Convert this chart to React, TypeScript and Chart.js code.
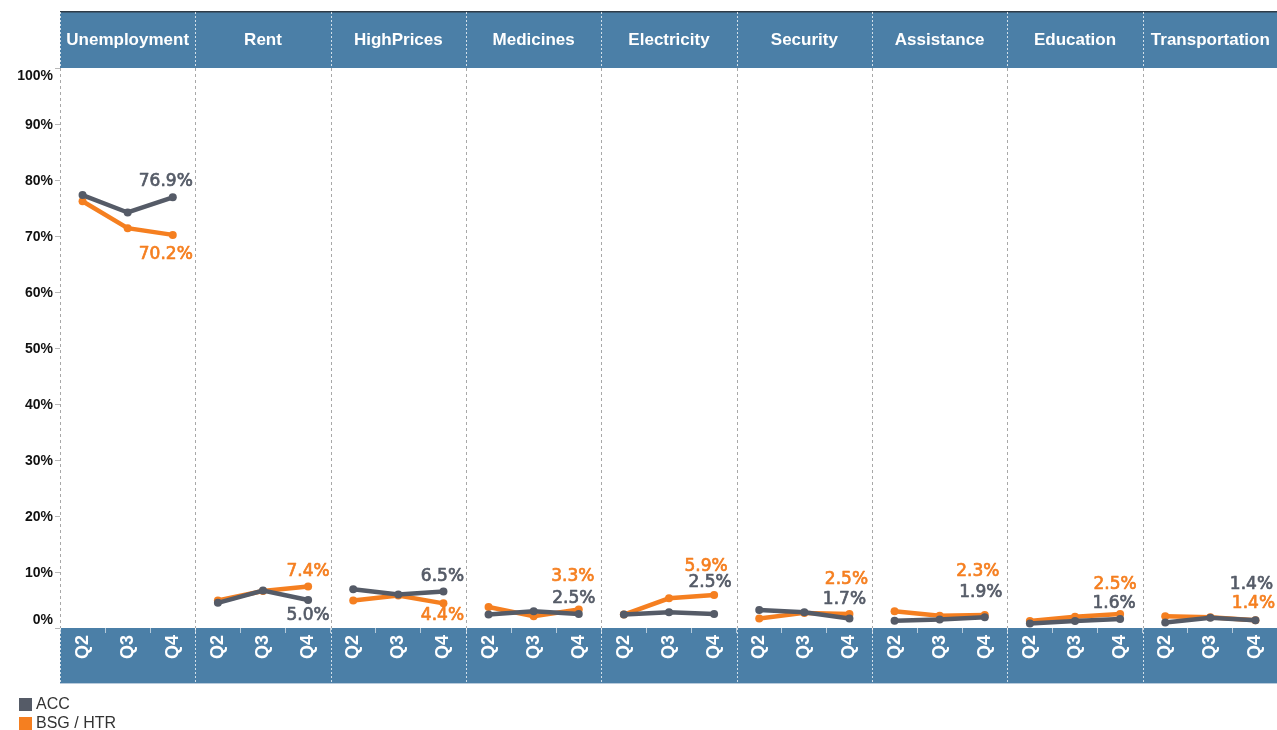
import React, { useEffect, useRef } from 'react';
import { Chart, registerables } from 'chart.js';

Chart.register(...registerables);

// ---------- data ----------
const CATEGORIES = [
  'Unemployment',
  'Rent',
  'HighPrices',
  'Medicines',
  'Electricity',
  'Security',
  'Assistance',
  'Education',
  'Transportation',
];
const QUARTERS = ['Q2', 'Q3', 'Q4'];
const SERIES_NAMES = ['ACC', 'BSG / HTR'];

// values in %, one triple (Q2, Q3, Q4) per category
const ACC_VALUES = [
  [77.3, 74.2, 76.9],
  [4.5, 6.7, 5.0],
  [6.9, 6.0, 6.5],
  [2.4, 3.0, 2.5],
  [2.4, 2.8, 2.5],
  [3.2, 2.8, 1.7],
  [1.3, 1.5, 1.9],
  [0.8, 1.25, 1.6],
  [1.0, 1.85, 1.4],
];
const BSG_VALUES = [
  [76.2, 71.4, 70.2],
  [4.9, 6.6, 7.4],
  [4.9, 5.8, 4.4],
  [3.75, 2.1, 3.3],
  [2.4, 5.3, 5.9],
  [1.7, 2.7, 2.5],
  [3.0, 2.2, 2.3],
  [1.25, 2.0, 2.5],
  [2.1, 1.9, 1.4],
];
const Y_TICKS = [0, 10, 20, 30, 40, 50, 60, 70, 80, 90, 100];

// ---------- styles ----------
const ACC_COLOR = '#555b67';
const BSG_COLOR = '#f57f20';
const BAND_COLOR = '#4b7fa7';
const SANS = '"Liberation Sans", Arial, sans-serif';
const LABEL_FONT = '"DejaVu Sans", sans-serif';

// end-label placement (offset from the Q4 point, px)
const ACC_LABEL_DX = [-7, 0, -1, -5, -4, -5, -4, -6, -4];
const ACC_LABEL_DY = [-17, 14, -17, -17, -33, -20, -26, -17, -37];
const BSG_LABEL_DX = [-7, 0, -1, -6, -8, -3, -7, -5, -2];
const BSG_LABEL_DY = [18, -17, 11, -35, -30, -36, -45, -31, -18];

const X_LABELS = CATEGORIES.flatMap(() => QUARTERS);

const panelPlugin = {
  id: 'panels',
  beforeDraw(chart: any) {
    const { ctx, chartArea } = chart;
    const xs = chart.scales.x;
    const { left, right, top, bottom } = chartArea;
    ctx.save();
    ctx.fillStyle = '#ffffff';
    ctx.fillRect(0, 0, chart.width, chart.height);
    // header band
    ctx.fillStyle = BAND_COLOR;
    ctx.fillRect(left, 12, right - left, top - 12);
    ctx.fillStyle = '#2e3b47';
    ctx.fillRect(left, 11, right - left, 1.5);
    // footer band
    ctx.fillStyle = BAND_COLOR;
    ctx.fillRect(left, bottom, right - left, xs.bottom - bottom);
    ctx.fillStyle = '#b9cbdc';
    ctx.fillRect(left, xs.bottom - 1, right - left, 1);
    ctx.restore();
  },
  beforeDatasetsDraw(chart: any) {
    const { ctx, chartArea } = chart;
    const xs = chart.scales.x;
    const ys = chart.scales.y;
    const { left, right, top, bottom } = chartArea;
    const panelW = (right - left) / CATEGORIES.length;
    ctx.save();
    for (let i = 0; i <= CATEGORIES.length; i++) {
      const x = Math.round(left + i * panelW) + 0.5;
      // plot area: grey dashed
      ctx.strokeStyle = '#a8a8a8';
      ctx.lineWidth = 1;
      ctx.setLineDash([3, 3]);
      ctx.beginPath();
      ctx.moveTo(x, top);
      ctx.lineTo(x, bottom);
      ctx.stroke();
      // bands: white dotted
      ctx.strokeStyle = 'rgba(255,255,255,0.75)';
      ctx.setLineDash([2, 2]);
      ctx.beginPath();
      ctx.moveTo(x, 12);
      ctx.lineTo(x, top);
      ctx.moveTo(x, bottom);
      ctx.lineTo(x, xs.bottom);
      ctx.stroke();
    }
    ctx.setLineDash([]);
    // y tick marks
    ctx.strokeStyle = '#b8b8b8';
    Y_TICKS.forEach((t) => {
      const y = Math.round(ys.getPixelForValue(t)) + 0.5;
      ctx.beginPath();
      ctx.moveTo(left - 5, y);
      ctx.lineTo(left, y);
      ctx.stroke();
    });
    ctx.restore();
  },
  afterDraw(chart: any) {
    const { ctx, chartArea } = chart;
    const ys = chart.scales.y;
    const { left, right, top, bottom } = chartArea;
    const panelW = (right - left) / CATEGORIES.length;
    ctx.save();
    // header titles
    ctx.fillStyle = '#ffffff';
    ctx.font = `bold 17px ${SANS}`;
    ctx.textAlign = 'center';
    ctx.textBaseline = 'alphabetic';
    CATEGORIES.forEach((c, i) => {
      ctx.fillText(c, left + (i + 0.5) * panelW, 45);
    });
    // y tick labels
    ctx.fillStyle = '#111111';
    ctx.font = `bold 14px ${SANS}`;
    ctx.textAlign = 'right';
    Y_TICKS.forEach((t) => {
      let cy = ys.getPixelForValue(t);
      cy = Math.max(top + 7, Math.min(bottom - 9, cy));
      ctx.fillText(`${t}%`, left - 7, cy + 5);
    });
    // end labels
    ctx.font = `17px ${LABEL_FONT}`;
    ctx.textAlign = 'center';
    ctx.lineWidth = 0.7;
    ctx.lineJoin = 'round';
    const specs = [
      { ds: 0, color: ACC_COLOR, dx: ACC_LABEL_DX, dy: ACC_LABEL_DY },
      { ds: 1, color: BSG_COLOR, dx: BSG_LABEL_DX, dy: BSG_LABEL_DY },
    ];
    specs.forEach((s) => {
      const meta = chart.getDatasetMeta(s.ds);
      const data = chart.data.datasets[s.ds].data;
      ctx.fillStyle = s.color;
      ctx.strokeStyle = s.color;
      CATEGORIES.forEach((_, i) => {
        const idx = i * QUARTERS.length + QUARTERS.length - 1;
        const pt = meta.data[idx];
        const v = data[idx] as number;
        const txt = `${v.toFixed(1)}%`;
        const x = pt.x + s.dx[i];
        const y = pt.y + s.dy[i] + 6;
        ctx.fillText(txt, x, y);
        ctx.strokeText(txt, x, y);
      });
    });
    // legend
    ctx.textAlign = 'left';
    ctx.font = `16px ${SANS}`;
    chart.data.datasets.forEach((d: any, i: number) => {
      const y = 698 + i * 19;
      ctx.fillStyle = d.borderColor;
      ctx.fillRect(19, y, 13, 13);
      ctx.fillStyle = '#333333';
      ctx.fillText(d.label, 36, y + 11);
    });
    ctx.restore();
  },
};

export default function App() {
  const canvasRef = useRef<HTMLCanvasElement | null>(null);

  useEffect(() => {
    const canvas = canvasRef.current;
    if (!canvas) return;
    const mk = (vals: number[][], name: string, color: string) => ({
      label: name,
      data: vals.flat(),
      borderColor: color,
      backgroundColor: color,
      pointBackgroundColor: color,
      pointBorderColor: color,
      borderWidth: 4.5,
      pointRadius: 4,
      pointBorderWidth: 0,
      tension: 0,
      segment: {
        borderColor: (c: any) =>
          c.p0DataIndex % QUARTERS.length === QUARTERS.length - 1 ? 'rgba(0,0,0,0)' : color,
      },
    });
    const chart = new Chart(canvas, {
      type: 'line',
      data: {
        labels: X_LABELS,
        datasets: [mk(ACC_VALUES, SERIES_NAMES[0], ACC_COLOR), mk(BSG_VALUES, SERIES_NAMES[1], BSG_COLOR)],
      },
      options: {
        responsive: false,
        animation: false,
        devicePixelRatio: 1,
        layout: { padding: { left: 60, right: 2, top: 68, bottom: 46 } },
        plugins: { legend: { display: false }, tooltip: { enabled: false } },
        scales: {
          x: {
            type: 'category',
            offset: true,
            grid: {
              display: true,
              drawOnChartArea: false,
              drawTicks: true,
              tickLength: 5,
              tickColor: 'rgba(255,255,255,0.6)',
              offset: true,
            },
            border: { display: false },
            ticks: {
              color: '#ffffff',
              font: { family: SANS, size: 18, weight: 'bold' },
              minRotation: 90,
              maxRotation: 90,
              autoSkip: false,
              padding: 2,
            },
            afterFit: (s: any) => {
              s.height = 56;
              s.paddingLeft = 0;
              s.paddingRight = 0;
            },
          },
          y: {
            display: false,
            min: 0,
            max: 100,
          },
        },
      },
      plugins: [panelPlugin],
    } as any);
    return () => chart.destroy();
  }, []);

  return (
    <div
      style={{
        position: 'fixed',
        left: 0,
        top: 0,
        width: 1277,
        height: 730,
        overflow: 'hidden',
        background: '#ffffff',
      }}
    >
      <canvas ref={canvasRef} width={1282} height={730} style={{ display: 'block', width: 1282, height: 730 }} />
    </div>
  );
}
